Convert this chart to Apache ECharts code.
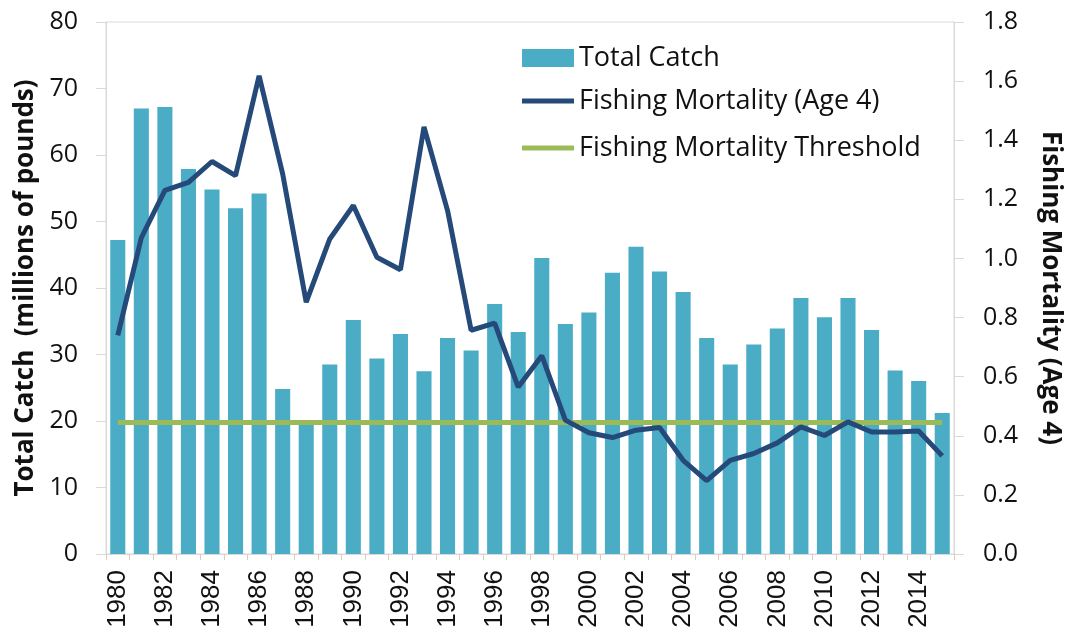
<!DOCTYPE html>
<html><head><meta charset="utf-8">
<script src="https://cdn.jsdelivr.net/npm/echarts@6/dist/echarts.min.js"></script>
<style>html,body{margin:0;padding:0;background:#fff}#c{width:1077px;height:637px}</style>
</head><body><div id="c"></div>
<script>
const years = ['1980','1981','1982','1983','1984','1985','1986','1987','1988','1989','1990','1991','1992','1993','1994','1995','1996','1997','1998','1999','2000','2001','2002','2003','2004','2005','2006','2007','2008','2009','2010','2011','2012','2013','2014','2015'];
const totalCatch = [47.2,67.0,67.2,57.9,54.8,52.0,54.2,24.8,19.7,28.5,35.2,29.4,33.1,27.5,32.5,30.6,37.6,33.4,44.5,34.6,36.3,42.3,46.2,42.5,39.4,32.5,28.5,31.5,33.9,38.5,35.6,38.5,33.7,27.6,26.0,21.2];
const mortality = [0.74,1.07,1.23,1.257,1.328,1.28,1.618,1.286,0.852,1.066,1.179,1.004,0.962,1.445,1.162,0.757,0.781,0.565,0.671,0.453,0.41,0.394,0.419,0.428,0.317,0.248,0.317,0.34,0.376,0.43,0.401,0.447,0.413,0.413,0.416,0.332];
const thresholdValue = 0.445;
const threshold = years.map(() => thresholdValue);
const leftTicks = {min: 0, max: 80, interval: 10};
const rightTicks = {min: 0, max: 1.8, interval: 0.2};

const chart = echarts.init(document.getElementById('c'), null, {renderer: 'canvas'});
const font = 'Open Sans';
const legendText = {fontFamily: font, fontSize: 27, color: '#111', lineHeight: 30};
chart.setOption({
  animation: false,
  grid: {left: 106, right: 123, top: 22, bottom: 83, show: true, borderColor: '#d9d9d9', borderWidth: 1},
  legend: [
    {orient: 'vertical', left: 522, top: 43, padding: 0, itemWidth: 52, itemHeight: 18, itemGap: 17,
     textStyle: legendText, data: [{name: 'Total Catch', icon: 'rect'}]},
    {orient: 'vertical', left: 522, top: 86, padding: 0, itemWidth: 52, itemHeight: 5, itemGap: 17,
     textStyle: legendText,
     data: [{name: 'Fishing Mortality (Age 4)', icon: 'rect'}, {name: 'Fishing Mortality Threshold', icon: 'rect'}]}
  ],
  xAxis: {
    type: 'category', data: years, boundaryGap: true,
    axisLine: {lineStyle: {color: '#d9d9d9', width: 1}},
    axisTick: {show: true, interval: 0, length: 6, lineStyle: {color: '#e6c8bf'}},
    axisLabel: {interval: 1, rotate: 90, fontFamily: 'Liberation Sans', fontSize: 26, color: '#111', margin: 16}
  },
  yAxis: [
    {type: 'value', min: leftTicks.min, max: leftTicks.max, interval: leftTicks.interval,
     name: 'Total Catch  (millions of pounds)', nameLocation: 'middle', nameGap: 63, nameRotate: 90,
     nameTextStyle: {fontFamily: font, fontWeight: 'bold', fontSize: 26, color: '#111'},
     axisLine: {show: true, lineStyle: {color: '#d9d9d9'}},
     axisTick: {show: true, length: 10, lineStyle: {color: '#d9d9d9'}},
     splitLine: {show: false},
     axisLabel: {fontFamily: font, fontSize: 25, color: '#111', margin: 28}},
    {type: 'value', min: rightTicks.min, max: rightTicks.max, interval: rightTicks.interval,
     name: 'Fishing Mortality (Age 4)', nameLocation: 'middle', nameGap: 83, nameRotate: -90,
     nameTextStyle: {fontFamily: font, fontWeight: 'bold', fontSize: 26, color: '#111'},
     axisLine: {show: true, lineStyle: {color: '#d9d9d9'}},
     axisTick: {show: true, length: 10, lineStyle: {color: '#d9d9d9'}},
     splitLine: {show: false},
     axisLabel: {fontFamily: font, fontSize: 25, color: '#111', margin: 29, formatter: v => v.toFixed(1)}}
  ],
  series: [
    {name: 'Total Catch', type: 'bar', data: totalCatch, barCategoryGap: '36%', itemStyle: {color: '#4BACC6'}, z: 1},
    {name: 'Fishing Mortality Threshold', type: 'line', yAxisIndex: 1, data: threshold, symbol: 'none', lineStyle: {color: '#9BBB59', width: 5}, itemStyle: {color: '#9BBB59'}, z: 2},
    {name: 'Fishing Mortality (Age 4)', type: 'line', yAxisIndex: 1, data: mortality, symbol: 'none', lineStyle: {color: '#254A7A', width: 5}, itemStyle: {color: '#254A7A'}, z: 3}
  ]
});
</script></body></html>
